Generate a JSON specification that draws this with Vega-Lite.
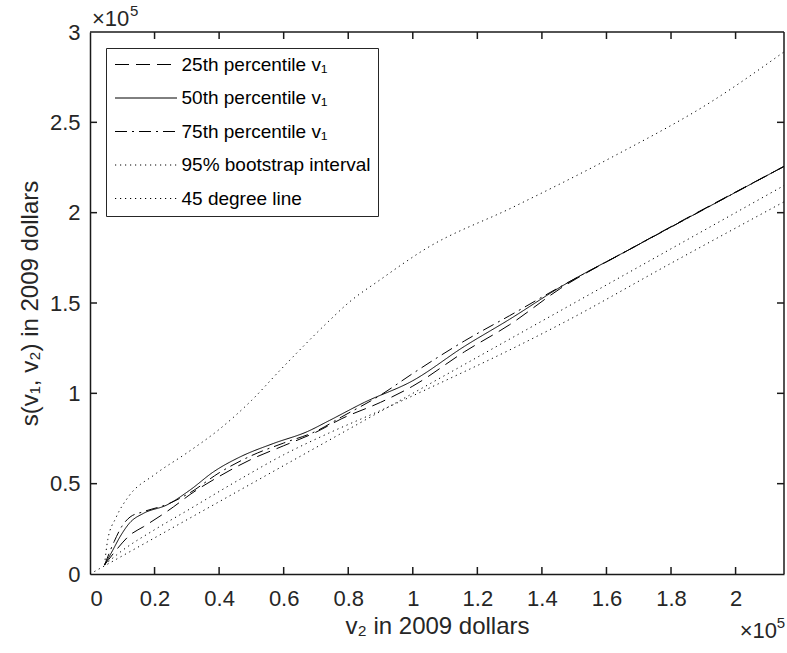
{
  "$schema": "https://vega.github.io/schema/vega-lite/v6.json",
  "width": 694,
  "height": 542,
  "autosize": {"type": "none"},
  "padding": {"left": 90, "top": 32, "right": 3, "bottom": 79},
  "background": "white",
  "config": {
    "view": {"stroke": null},
    "font": "Liberation Sans",
    "axis": {
      "domain": true,
      "domainColor": "#1a1a1a",
      "domainWidth": 1.5,
      "ticks": false,
      "tickSize": 0,
      "labelColor": "#262626",
      "titleColor": "#262626",
      "grid": false,
      "labelFontSize": 22,
      "titleFontSize": 24,
      "titleFontWeight": "normal",
      "labelFont": "Liberation Sans",
      "titleFont": "Liberation Sans"
    },
    "legend": {
      "orient": "top-left",
      "offset": 16,
      "strokeColor": "#262626",
      "fillColor": "white",
      "padding": 7,
      "symbolType": "M-6.2,0H6.2",
      "symbolSize": 100,
      "symbolOffset": 23.5,
      "symbolStrokeWidth": 1,
      "symbolStrokeColor": "black",
      "symbolFillColor": "transparent",
      "labelFontSize": 19,
      "labelColor": "black",
      "labelOffset": 26,
      "labelLimit": 400,
      "rowPadding": 13.5,
      "labelFont": "Liberation Sans"
    }
  },
  "datasets": {
    "curves": [
      {"s": "25th percentile v₁", "g": "p25", "x": 4500, "y": 5000},
      {"s": "25th percentile v₁", "g": "p25", "x": 8000, "y": 13000},
      {"s": "25th percentile v₁", "g": "p25", "x": 12400, "y": 21600},
      {"s": "25th percentile v₁", "g": "p25", "x": 16600, "y": 26200},
      {"s": "25th percentile v₁", "g": "p25", "x": 25900, "y": 37200},
      {"s": "25th percentile v₁", "g": "p25", "x": 31000, "y": 44000},
      {"s": "25th percentile v₁", "g": "p25", "x": 40000, "y": 54000},
      {"s": "25th percentile v₁", "g": "p25", "x": 50000, "y": 63500},
      {"s": "25th percentile v₁", "g": "p25", "x": 60000, "y": 71000},
      {"s": "25th percentile v₁", "g": "p25", "x": 70000, "y": 78500},
      {"s": "25th percentile v₁", "g": "p25", "x": 78000, "y": 86000},
      {"s": "25th percentile v₁", "g": "p25", "x": 90000, "y": 95000},
      {"s": "25th percentile v₁", "g": "p25", "x": 100000, "y": 104000},
      {"s": "25th percentile v₁", "g": "p25", "x": 116000, "y": 123000},
      {"s": "25th percentile v₁", "g": "p25", "x": 130000, "y": 138000},
      {"s": "25th percentile v₁", "g": "p25", "x": 145700, "y": 158000},
      {"s": "25th percentile v₁", "g": "p25", "x": 167500, "y": 180000},
      {"s": "25th percentile v₁", "g": "p25", "x": 215000, "y": 225600},

      {"s": "50th percentile v₁", "g": "p50", "x": 4500, "y": 5000},
      {"s": "50th percentile v₁", "g": "p50", "x": 7000, "y": 13000},
      {"s": "50th percentile v₁", "g": "p50", "x": 9300, "y": 20600},
      {"s": "50th percentile v₁", "g": "p50", "x": 12400, "y": 28500},
      {"s": "50th percentile v₁", "g": "p50", "x": 16600, "y": 33600},
      {"s": "50th percentile v₁", "g": "p50", "x": 23800, "y": 38200},
      {"s": "50th percentile v₁", "g": "p50", "x": 31000, "y": 46500},
      {"s": "50th percentile v₁", "g": "p50", "x": 38300, "y": 56600},
      {"s": "50th percentile v₁", "g": "p50", "x": 46600, "y": 64900},
      {"s": "50th percentile v₁", "g": "p50", "x": 56900, "y": 72300},
      {"s": "50th percentile v₁", "g": "p50", "x": 67300, "y": 78800},
      {"s": "50th percentile v₁", "g": "p50", "x": 74200, "y": 85000},
      {"s": "50th percentile v₁", "g": "p50", "x": 85000, "y": 95000},
      {"s": "50th percentile v₁", "g": "p50", "x": 100000, "y": 107000},
      {"s": "50th percentile v₁", "g": "p50", "x": 116000, "y": 126000},
      {"s": "50th percentile v₁", "g": "p50", "x": 130000, "y": 141000},
      {"s": "50th percentile v₁", "g": "p50", "x": 145700, "y": 158800},
      {"s": "50th percentile v₁", "g": "p50", "x": 167500, "y": 180000},
      {"s": "50th percentile v₁", "g": "p50", "x": 215000, "y": 225600},

      {"s": "75th percentile v₁", "g": "p75", "x": 4500, "y": 5000},
      {"s": "75th percentile v₁", "g": "p75", "x": 7500, "y": 18000},
      {"s": "75th percentile v₁", "g": "p75", "x": 9800, "y": 26200},
      {"s": "75th percentile v₁", "g": "p75", "x": 12400, "y": 31500},
      {"s": "75th percentile v₁", "g": "p75", "x": 16600, "y": 34500},
      {"s": "75th percentile v₁", "g": "p75", "x": 23800, "y": 38500},
      {"s": "75th percentile v₁", "g": "p75", "x": 31000, "y": 45000},
      {"s": "75th percentile v₁", "g": "p75", "x": 40000, "y": 56000},
      {"s": "75th percentile v₁", "g": "p75", "x": 50000, "y": 65500},
      {"s": "75th percentile v₁", "g": "p75", "x": 60000, "y": 72500},
      {"s": "75th percentile v₁", "g": "p75", "x": 70000, "y": 79000},
      {"s": "75th percentile v₁", "g": "p75", "x": 78000, "y": 87000},
      {"s": "75th percentile v₁", "g": "p75", "x": 90000, "y": 99000},
      {"s": "75th percentile v₁", "g": "p75", "x": 100000, "y": 111000},
      {"s": "75th percentile v₁", "g": "p75", "x": 116000, "y": 129000},
      {"s": "75th percentile v₁", "g": "p75", "x": 130000, "y": 143000},
      {"s": "75th percentile v₁", "g": "p75", "x": 145700, "y": 159000},
      {"s": "75th percentile v₁", "g": "p75", "x": 167500, "y": 180000},
      {"s": "75th percentile v₁", "g": "p75", "x": 215000, "y": 225600},

      {"s": "95% bootstrap interval", "g": "bhi", "x": 4500, "y": 5000},
      {"s": "95% bootstrap interval", "g": "bhi", "x": 5500, "y": 19000},
      {"s": "95% bootstrap interval", "g": "bhi", "x": 8000, "y": 31000},
      {"s": "95% bootstrap interval", "g": "bhi", "x": 12000, "y": 43000},
      {"s": "95% bootstrap interval", "g": "bhi", "x": 20000, "y": 55000},
      {"s": "95% bootstrap interval", "g": "bhi", "x": 30000, "y": 67000},
      {"s": "95% bootstrap interval", "g": "bhi", "x": 40000, "y": 80000},
      {"s": "95% bootstrap interval", "g": "bhi", "x": 50000, "y": 96000},
      {"s": "95% bootstrap interval", "g": "bhi", "x": 59000, "y": 113000},
      {"s": "95% bootstrap interval", "g": "bhi", "x": 74000, "y": 140000},
      {"s": "95% bootstrap interval", "g": "bhi", "x": 80000, "y": 150000},
      {"s": "95% bootstrap interval", "g": "bhi", "x": 90000, "y": 163000},
      {"s": "95% bootstrap interval", "g": "bhi", "x": 104000, "y": 180000},
      {"s": "95% bootstrap interval", "g": "bhi", "x": 131000, "y": 203000},
      {"s": "95% bootstrap interval", "g": "bhi", "x": 162000, "y": 231000},
      {"s": "95% bootstrap interval", "g": "bhi", "x": 193000, "y": 262000},
      {"s": "95% bootstrap interval", "g": "bhi", "x": 215000, "y": 289000},

      {"s": "95% bootstrap interval", "g": "blo", "x": 4500, "y": 5000},
      {"s": "95% bootstrap interval", "g": "blo", "x": 10000, "y": 13000},
      {"s": "95% bootstrap interval", "g": "blo", "x": 20000, "y": 24500},
      {"s": "95% bootstrap interval", "g": "blo", "x": 30000, "y": 35000},
      {"s": "95% bootstrap interval", "g": "blo", "x": 47000, "y": 53000},
      {"s": "95% bootstrap interval", "g": "blo", "x": 60000, "y": 66000},
      {"s": "95% bootstrap interval", "g": "blo", "x": 74000, "y": 78000},
      {"s": "95% bootstrap interval", "g": "blo", "x": 90000, "y": 90500},
      {"s": "95% bootstrap interval", "g": "blo", "x": 110000, "y": 107000},
      {"s": "95% bootstrap interval", "g": "blo", "x": 130000, "y": 124000},
      {"s": "95% bootstrap interval", "g": "blo", "x": 146000, "y": 138500},
      {"s": "95% bootstrap interval", "g": "blo", "x": 180000, "y": 172000},
      {"s": "95% bootstrap interval", "g": "blo", "x": 215000, "y": 206000},

      {"s": "45 degree line", "g": "d45", "x": 0, "y": 0},
      {"s": "45 degree line", "g": "d45", "x": 215000, "y": 215000}
    ],
    "xticks": [
      {"x": 20000, "y": 0}, {"x": 40000, "y": 0}, {"x": 60000, "y": 0}, {"x": 80000, "y": 0}, {"x": 100000, "y": 0},
      {"x": 120000, "y": 0}, {"x": 140000, "y": 0}, {"x": 160000, "y": 0}, {"x": 180000, "y": 0}, {"x": 200000, "y": 0},
      {"x": 20000, "y": 300000}, {"x": 40000, "y": 300000}, {"x": 60000, "y": 300000}, {"x": 80000, "y": 300000}, {"x": 100000, "y": 300000},
      {"x": 120000, "y": 300000}, {"x": 140000, "y": 300000}, {"x": 160000, "y": 300000}, {"x": 180000, "y": 300000}, {"x": 200000, "y": 300000}
    ],
    "yticks": [
      {"x": 0, "y": 50000}, {"x": 0, "y": 100000}, {"x": 0, "y": 150000}, {"x": 0, "y": 200000}, {"x": 0, "y": 250000},
      {"x": 215000, "y": 50000}, {"x": 215000, "y": 100000}, {"x": 215000, "y": 150000}, {"x": 215000, "y": 200000}, {"x": 215000, "y": 250000}
    ],
    "frame": [
      {"x": 0, "y": 300000, "x2": 215000, "y2": 300000},
      {"x": 215000, "y": 0, "x2": 215000, "y2": 300000}
    ],
    "notes": [
      {"x": 0, "y": 300000, "k": "y"},
      {"x": 215000, "y": 0, "k": "x"}
    ]
  },
  "layer": [
    {
      "data": {"name": "xticks"},
      "mark": {"type": "tick", "orient": "vertical", "size": 14, "thickness": 1.5, "clip": true, "color": "#1a1a1a", "opacity": 1},
      "encoding": {
        "x": {
          "field": "x", "type": "quantitative",
          "scale": {"domain": [0, 215000], "nice": false, "zero": false},
          "axis": {
            "orient": "bottom",
            "values": [0, 20000, 40000, 60000, 80000, 100000, 120000, 140000, 160000, 180000, 200000],
            "labelExpr": "format(datum.value / 100000, '~g')",
            "title": "v₂ in 2009 dollars",
            "labelPadding": 14,
            "titlePadding": 5
          }
        },
        "y": {
          "field": "y", "type": "quantitative",
          "scale": {"domain": [0, 300000], "nice": false, "zero": false},
          "axis": {
            "orient": "left",
            "values": [0, 50000, 100000, 150000, 200000, 250000, 300000],
            "labelExpr": "format(datum.value / 100000, '~g')",
            "title": "s(v₁, v₂) in 2009 dollars",
            "labelPadding": 10,
            "titlePadding": 7
          }
        }
      }
    },
    {
      "data": {"name": "yticks"},
      "mark": {"type": "tick", "orient": "horizontal", "size": 14, "thickness": 1.5, "clip": true, "color": "#1a1a1a", "opacity": 1},
      "encoding": {
        "x": {"field": "x", "type": "quantitative"},
        "y": {"field": "y", "type": "quantitative"}
      }
    },
    {
      "data": {"name": "frame"},
      "mark": {"type": "rule", "color": "#1a1a1a", "strokeWidth": 1.5},
      "encoding": {
        "x": {"field": "x", "type": "quantitative"},
        "y": {"field": "y", "type": "quantitative"},
        "x2": {"field": "x2"},
        "y2": {"field": "y2"}
      }
    },
    {
      "data": {"name": "curves"},
      "mark": {"type": "line", "strokeWidth": 1, "color": "black", "strokeCap": "butt", "interpolate": "monotone"},
      "encoding": {
        "x": {"field": "x", "type": "quantitative"},
        "y": {"field": "y", "type": "quantitative"},
        "strokeDash": {
          "field": "s", "type": "nominal",
          "scale": {
            "domain": ["25th percentile v₁", "50th percentile v₁", "75th percentile v₁", "95% bootstrap interval", "45 degree line"],
            "range": [[14, 7], [1, 0], [12, 5, 2, 5], [1.2, 3.8], [1.2, 3.8]]
          },
          "legend": {"title": null}
        },
        "detail": {"field": "g", "type": "nominal"},
        "order": {"field": "x", "type": "quantitative"}
      }
    },
    {
      "data": {"name": "notes"},
      "transform": [{"filter": "datum.k == 'y'"}],
      "layer": [
        {
          "mark": {"type": "text", "align": "left", "baseline": "alphabetic", "dx": 2, "dy": -6, "fontSize": 22, "color": "#262626", "font": "Liberation Sans", "text": "×10"}
        },
        {
          "mark": {"type": "text", "align": "left", "baseline": "alphabetic", "dx": 40, "dy": -16, "fontSize": 15, "color": "#262626", "font": "Liberation Sans", "text": "5"}
        }
      ],
      "encoding": {
        "x": {"field": "x", "type": "quantitative"},
        "y": {"field": "y", "type": "quantitative"}
      }
    },
    {
      "data": {"name": "notes"},
      "transform": [{"filter": "datum.k == 'x'"}],
      "layer": [
        {
          "mark": {"type": "text", "align": "right", "baseline": "alphabetic", "dx": -7, "dy": 64, "fontSize": 22, "color": "#262626", "font": "Liberation Sans", "text": "×10"}
        },
        {
          "mark": {"type": "text", "align": "right", "baseline": "alphabetic", "dx": 1, "dy": 54, "fontSize": 15, "color": "#262626", "font": "Liberation Sans", "text": "5"}
        }
      ],
      "encoding": {
        "x": {"field": "x", "type": "quantitative"},
        "y": {"field": "y", "type": "quantitative"}
      }
    }
  ]
}
